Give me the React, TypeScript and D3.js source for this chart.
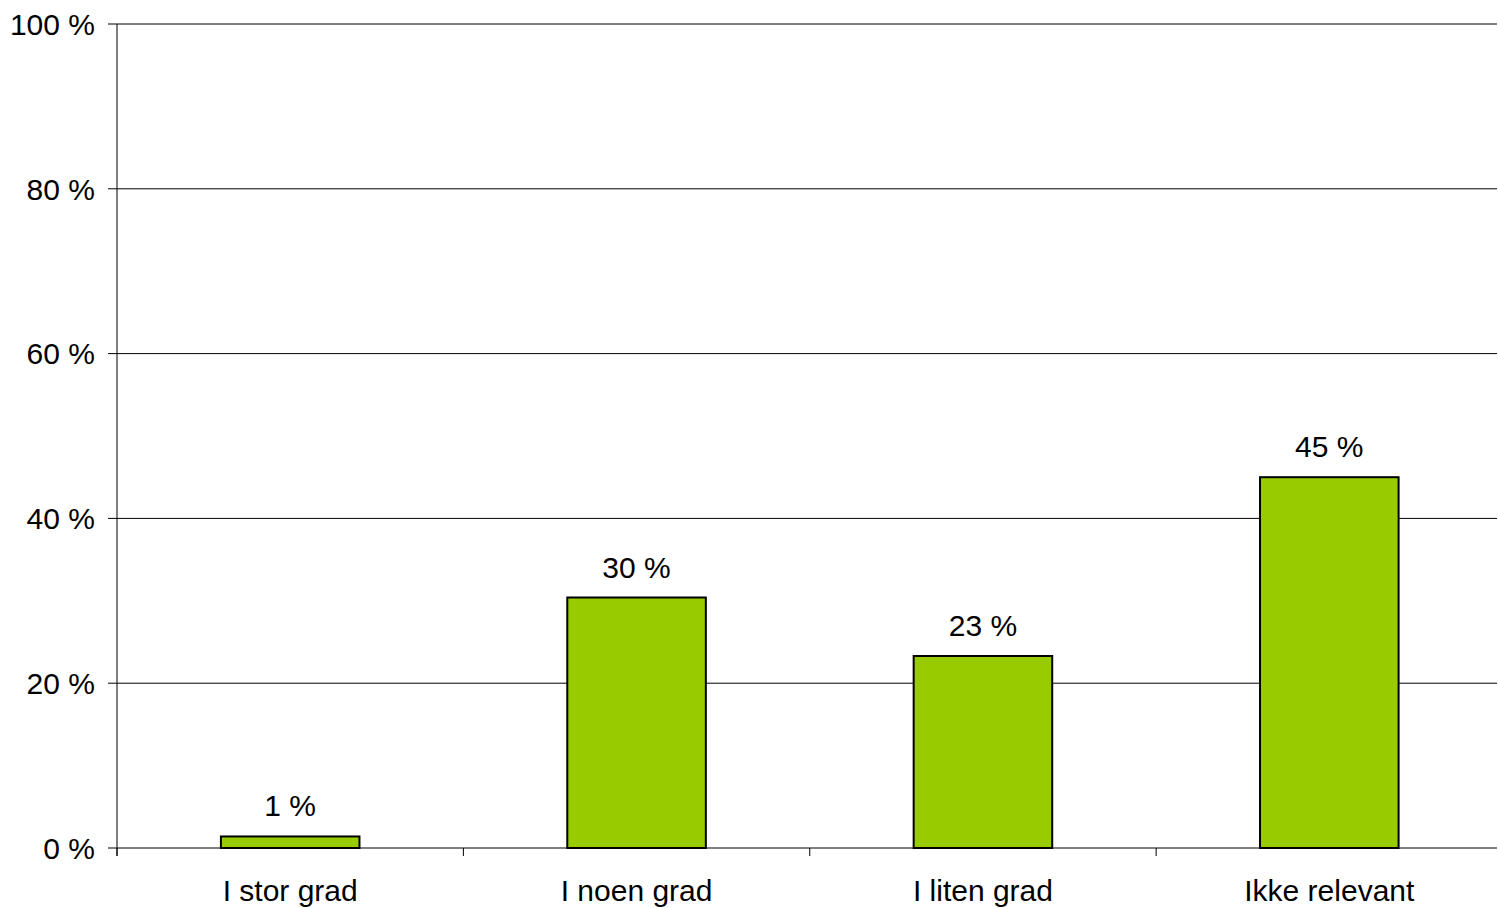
import React from "react";
import * as d3 from "d3";

const categories = ["I stor grad", "I noen grad", "I liten grad", "Ikke relevant"];
const shares = [1.4, 30.4, 23.3, 45.0];
const yTicks = [0, 20, 40, 60, 80, 100];

const W = 1498;
const H = 908;
const plot = { left: 117, right: 1502.5, gridRight: 1497, top: 24, bottom: 848 };
const FONT = "'Liberation Sans', Arial, sans-serif";
const FS = 30;

export default function App() {
  const x = d3
    .scaleBand<string>()
    .domain(categories)
    .range([plot.left, plot.right])
    .paddingInner(0.6)
    .paddingOuter(0.3);
  const y = d3.scaleLinear().domain([0, 100]).range([plot.bottom, plot.top]);
  const step = x.step();
  const boundaries = d3
    .range(categories.length + 1)
    .map((i) => plot.left + i * step)
    .filter((bx) => bx <= W);

  return (
    <svg
      width={W}
      height={H}
      style={{ position: "absolute", left: 0, top: 0, background: "#fff" }}
      fontFamily={FONT}
    >
      {yTicks.map((t) => (
        <g key={t}>
          <line x1={plot.left - 9} x2={plot.gridRight} y1={y(t)} y2={y(t)} stroke="#000" strokeWidth={1} />
          <text x={95} y={y(t)} dy="0.36em" textAnchor="end" fontSize={FS}>
            {`${t} %`}
          </text>
        </g>
      ))}
      <line x1={plot.left} x2={plot.left} y1={y(100)} y2={y(0) + 8} stroke="#000" strokeWidth={1} />
      {boundaries.map((bx, i) => (
        <line key={i} x1={bx} x2={bx} y1={y(0)} y2={y(0) + 8} stroke="#000" strokeWidth={1} />
      ))}
      {categories.map((c, i) => (
        <g key={c}>
          <rect
            x={x(c)}
            y={y(shares[i])}
            width={x.bandwidth()}
            height={y(0) - y(shares[i])}
            fill="#99CC00"
            stroke="#000"
            strokeWidth={2}
          />
          <text
            x={(x(c) ?? 0) + x.bandwidth() / 2}
            y={y(shares[i]) - 20}
            textAnchor="middle"
            fontSize={FS}
          >
            {`${Math.round(shares[i])} %`}
          </text>
          <text
            x={(x(c) ?? 0) + x.bandwidth() / 2}
            y={901}
            textAnchor="middle"
            fontSize={FS}
          >
            {c}
          </text>
        </g>
      ))}
    </svg>
  );
}
